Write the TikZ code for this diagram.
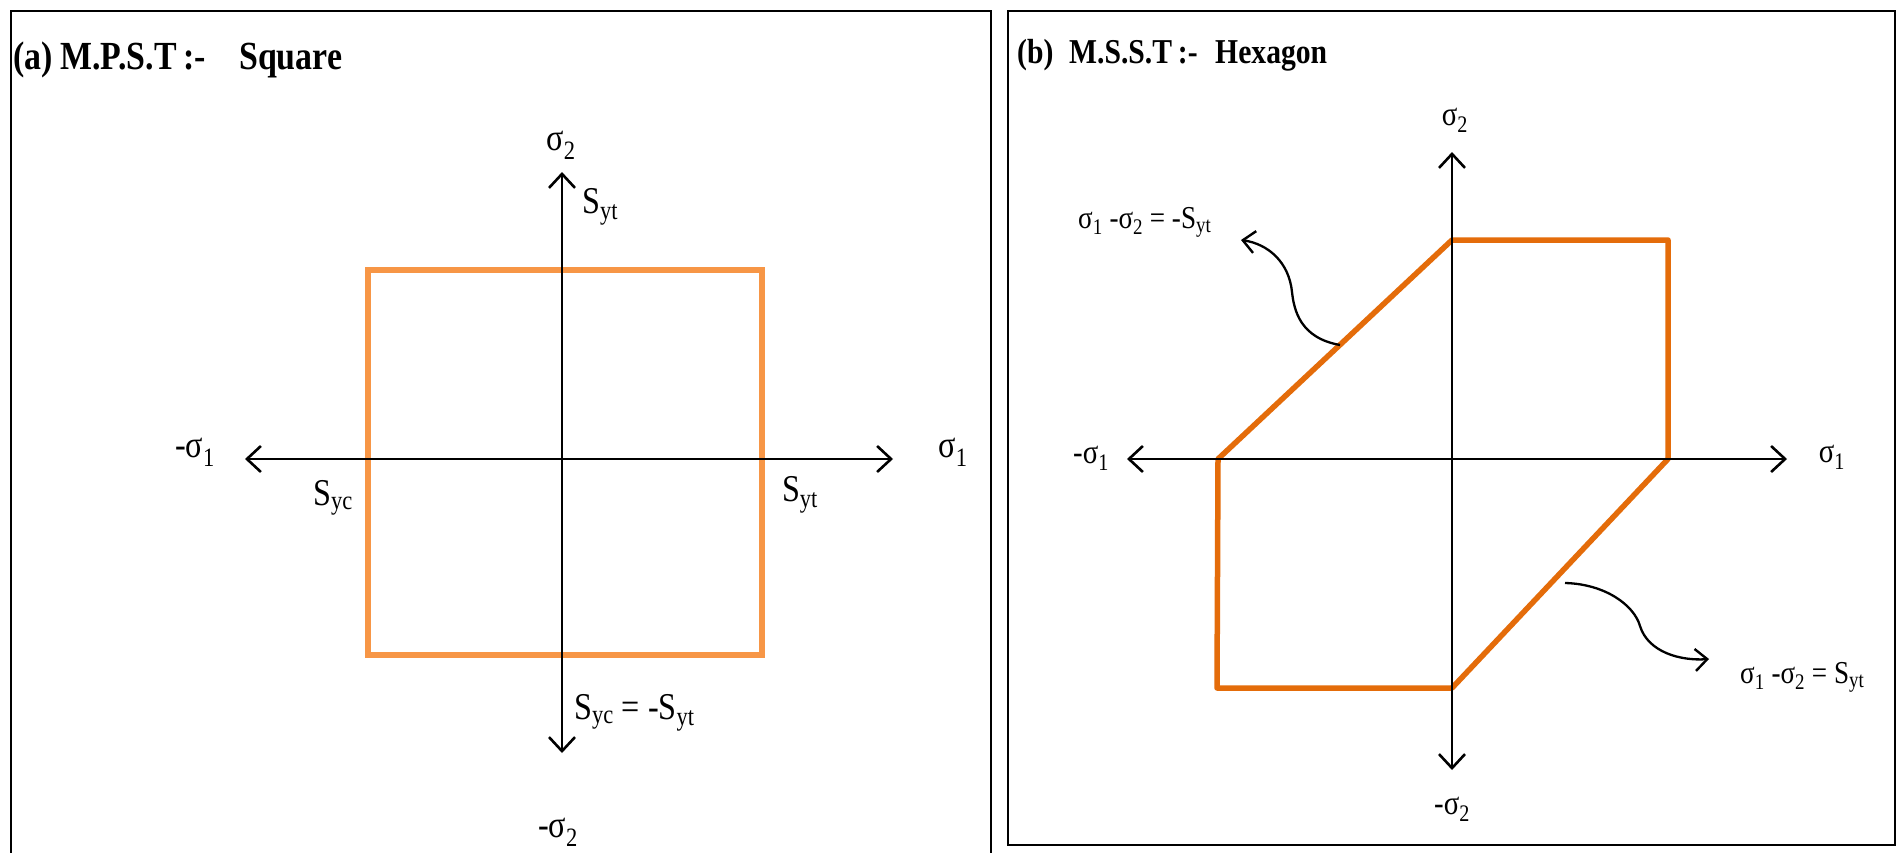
\documentclass[tikz,border=0pt]{standalone}
\usepackage{fontspec}
\setmainfont[FakeStretch=0.85]{Liberation Serif}
\usetikzlibrary{arrows.meta}
\definecolor{sqorange}{HTML}{F79646}
\definecolor{hexorange}{HTML}{E46C0A}
\newcommand{\lsz}[1]{\fontsize{#1}{#1}\selectfont}
\newcommand{\lsub}[1]{\textsubscript{#1}}
\begin{document}
\begin{tikzpicture}[x=1bp,y=-1bp,
  frame/.style={line width=2.5bp, black},
  barb/.tip={Straight Barb[length=14bp,width=26bp,line width=2.6bp]},
  smallbarb/.tip={Straight Barb[length=12bp,width=22bp,line width=2.4bp]},
  axis/.style={line width=2.4bp, black, barb-barb},
  sqline/.style={line width=6.5bp, sqorange, line join=miter},
  hexline/.style={line width=5.5bp, hexorange, line join=round},
  curve/.style={line width=2.3bp, black, -smallbarb},
  biglab/.style={inner sep=0pt, font=\lsz{38}},
  midlab/.style={inner sep=0pt, font=\lsz{34}},
  smalllab/.style={inner sep=0pt, font=\lsz{32}},
  titlea/.style={inner sep=0pt, anchor=base west, font=\bfseries\lsz{40}},
  titleb/.style={inner sep=0pt, anchor=base west, font=\bfseries\lsz{35}}
]
\useasboundingbox (0,0) rectangle (1900,853);
\fill[white] (0,0) rectangle (1900,853);

% ---------- panel frames ----------
\draw[frame] (11,853) -- (11,11) -- (991,11) -- (991,853);
\draw[frame] (1008,11) rectangle (1895,845);

% ---------- panel (a) ----------
\node[titlea] (ta1) at (13,69) {(a)};
\node[titlea] (ta2) at (60,69) {M.P.S.T\,:-};
\node[titlea] (ta3) at (239,69) {Square};

\coordinate (aT) at (562,172);
\coordinate (aB) at (562,753);
\coordinate (aL) at (245,459);
\coordinate (aR) at (893,459);
\draw[sqline] (368,270) rectangle (762,655);
\draw[axis] (aT) -- (aB);
\draw[axis] (aL) -- (aR);

\node[biglab] (as2) at (561,145) {σ\lsub{2}};
\node[biglab] (ams2) at (558,832) {-σ\lsub{2}};
\node[biglab] (ams1) at (195,452) {-σ\lsub{1}};
\node[biglab] (as1) at (953,452) {σ\lsub{1}};
\node[biglab, anchor=west] (asyt1) at (582,207) {S\lsub{yt}};
\node[biglab] (asyc) at (333,498) {S\lsub{yc}};
\node[biglab] (asyt2) at (800,495) {S\lsub{yt}};
\node[biglab, anchor=west] (aeq) at (574,713) {S\lsub{yc} = -S\lsub{yt}};

% ---------- panel (b) ----------
\node[titleb] (tb1) at (1017,63) {(b)};
\node[titleb] (tb2) at (1069,63) {M.S.S.T\,:-};
\node[titleb] (tb3) at (1215,63) {Hexagon};

\coordinate (bT) at (1452,152);
\coordinate (bB) at (1452,770);
\coordinate (bL) at (1127,459);
\coordinate (bR) at (1787,459);
\draw[hexline] (1452,240) -- (1668,240) -- (1668,459) -- (1452,688) -- (1217,688) -- (1218,459) -- cycle;
\draw[axis] (bT) -- (bB);
\draw[axis] (bL) -- (bR);

\node[midlab] (bs2) at (1455,120) {σ\lsub{2}};
\node[midlab] (bms2) at (1452,809) {-σ\lsub{2}};
\node[midlab] (bms1) at (1091,458) {-σ\lsub{1}};
\node[midlab] (bs1) at (1832,457) {σ\lsub{1}};

\node[smalllab, anchor=base west] (bl1) at (1078,228) {σ\lsub{1} -σ\lsub{2} = -S\lsub{yt}};
\node[smalllab, anchor=base west] (bl2) at (1740,683) {σ\lsub{1} -σ\lsub{2} = S\lsub{yt}};

\coordinate (c1s) at (1340,345);
\coordinate (c1m) at (1292,292);
\coordinate (c1e) at (1241,240);
\draw[curve] (c1s) .. controls (1300,338) and (1294,310) .. (c1m) .. controls (1289,262) and (1268,244) .. (c1e);

\coordinate (c2s) at (1565,583);
\coordinate (c2m) at (1640,626);
\coordinate (c2e) at (1709,659);
\draw[curve] (c2s) .. controls (1605,584) and (1634,605) .. (c2m) .. controls (1648,652) and (1680,661) .. (c2e);
\end{tikzpicture}
\end{document}
